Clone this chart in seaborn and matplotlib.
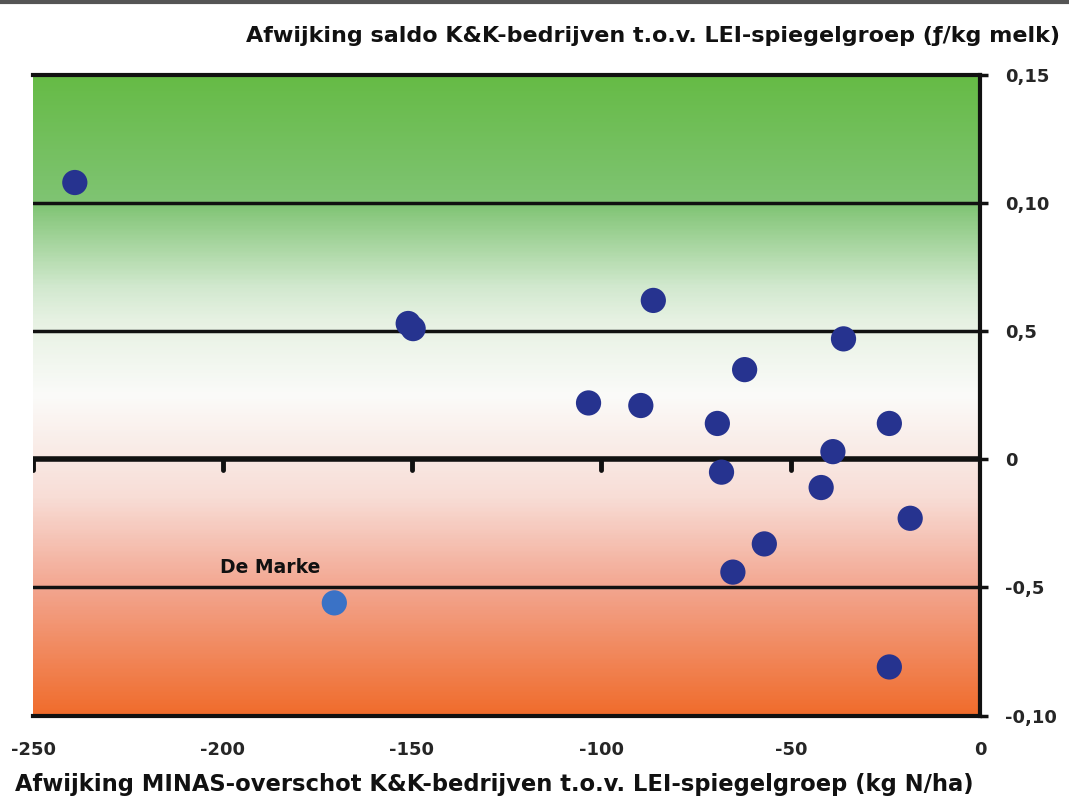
import numpy as np
import pandas as pd
import seaborn as sns
import matplotlib.pyplot as plt
from matplotlib.colors import LinearSegmentedColormap

sns.set_theme(style="white")
plt.rcParams['font.family'] = ['DejaVu Sans']

# K&K-bedrijven: MINAS-afwijking (kg N/ha) en saldo-afwijking (f/kg melk)
minas = [-239, -151, -149.7, -86.3, -36.1, -62.2, -103.4, -89.6, -69.4,
         -24.0, -38.9, -68.3, -42.0, -18.5, -57.0, -65.3, -24.0]
saldo = [0.108, 0.053, 0.051, 0.062, 0.047, 0.035, 0.022, 0.021, 0.014,
         0.014, 0.003, -0.005, -0.011, -0.023, -0.033, -0.044, -0.081]
demarke_x = [-170.5]
demarke_y = [-0.056]

y_ticks = [0.15, 0.10, 0.05, 0, -0.05, -0.10]
y_labels = ["0,15", "0,10", "0,5", "0", "-0,5", "-0,10"]
x_ticks = [-250, -200, -150, -100, -50, 0]

df = pd.DataFrame({"x": minas, "y": saldo})
dm = pd.DataFrame({"x": demarke_x, "y": demarke_y})

fig = plt.figure(figsize=(10.69, 8.05), dpi=100)
ax = fig.add_axes([0.031, 0.111, 0.886, 0.796])

# background gradient green -> white -> orange
cmap = LinearSegmentedColormap.from_list("bg", [
    (0.0, "#f06c2c"), (0.2, "#f3a690"), (0.34, "#f8ddd6"), (0.5, "#fbfbf9"),
    (0.62, "#e6f1e2"), (0.67, "#d2e9cf"), (0.8, "#80c474"), (1.0, "#66bb46")])
grad = np.linspace(0, 1, 400).reshape(-1, 1)
ax.imshow(grad, cmap=cmap, aspect="auto", origin="lower",
          extent=[-250, 0, -0.10, 0.15], zorder=0)

for yv in [0.10, 0.05, -0.05]:
    ax.axhline(yv, color="#111111", lw=2.5, zorder=1)
ax.axhline(0, color="#111111", lw=4, zorder=1)
for xv in x_ticks[:-1]:
    ax.plot([xv, xv], [0, -0.004], color="#111111", lw=3.5, zorder=1)

sns.scatterplot(data=df, x="x", y="y", ax=ax, s=330, color="#26338f",
                edgecolor="none", zorder=3)
sns.scatterplot(data=dm, x="x", y="y", ax=ax, s=330, color="#3a72c6",
                edgecolor="none", zorder=3)
ax.text(-200.8, -0.046, "De Marke", fontsize=13.5, fontweight="bold",
        color="#111111", va="bottom", ha="left", zorder=4)

ax.set_xlim(-250, 0)
ax.set_ylim(-0.10, 0.15)
ax.yaxis.tick_right()
ax.set_yticks(y_ticks)
ax.set_yticklabels(y_labels, fontsize=13, fontweight="bold")
ax.set_xticks(x_ticks)
ax.set_xticklabels([str(v) for v in x_ticks], fontsize=13, fontweight="bold")
ax.tick_params(axis="y", right=True, length=6, width=2.5, pad=12, color="#111111")
ax.tick_params(axis="x", bottom=False, pad=12)
ax.set_xlabel("")
ax.set_ylabel("")
for side in ["top", "right", "bottom"]:
    ax.spines[side].set_color("#111111")
    ax.spines[side].set_linewidth(3)
ax.spines["left"].set_visible(False)

fig.text(0.992, 0.955, "Afwijking saldo K&K-bedrijven t.o.v. LEI-spiegelgroep (ƒ/kg melk)",
         ha="right", va="center", fontsize=16, fontweight="bold", color="#111111")
fig.text(0.014, 0.025, "Afwijking MINAS-overschot K&K-bedrijven t.o.v. LEI-spiegelgroep (kg N/ha)",
         ha="left", va="center", fontsize=16.3, fontweight="bold", color="#111111")
fig.add_artist(plt.Line2D([0, 1], [0.998, 0.998], color="#555555", lw=3,
                          transform=fig.transFigure))

fig.savefig("out.png", dpi=100)
